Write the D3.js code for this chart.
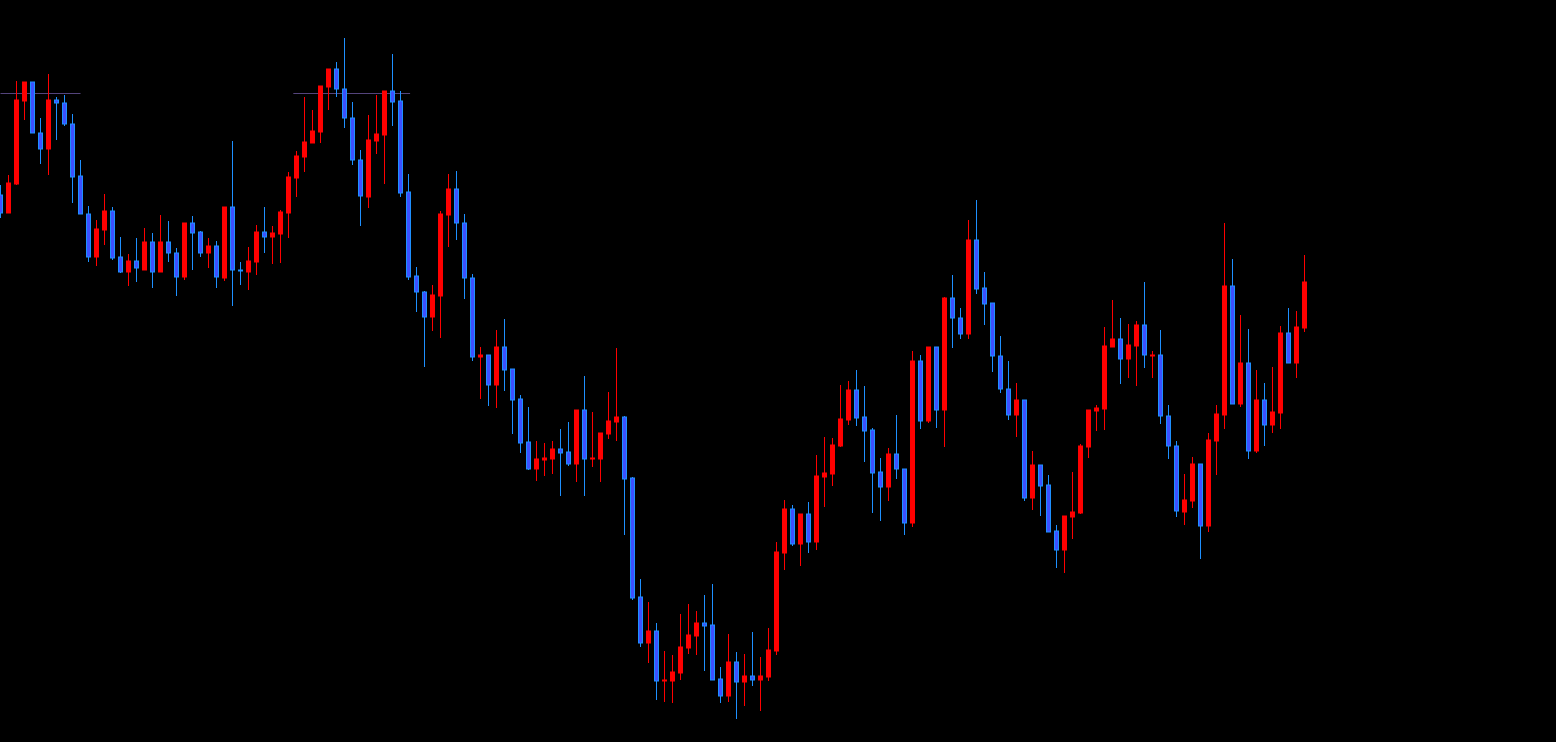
<!DOCTYPE html>
<html>
<head>
<meta charset="utf-8">
<script src="https://cdn.jsdelivr.net/npm/d3@7"></script>
<style>
html,body{margin:0;padding:0;background:#000;overflow:hidden;}
svg{display:block;}
</style>
</head>
<body>
<svg id="chart" width="1556" height="742"></svg>
<script>
// Candle data (index = bar number, prices in chart units)
const opens  = [805,787,816,899,918,867,851,900,897,876,824,786,743,770,789,743,728,739,730,758,728,758,747,723,777,768,747,754,722,793,730,728,738,768,763,766,787,822,843,857,868,913,931,911,882,840,803,859,865,909,899,808,724,708,683,704,785,811,777,722,643,645,615,653,631,601,558,531,540,541,551,548,536,590,541,541,566,578,583,522,403,357,369,319,319,327,352,364,377,375,321,304,338,318,324,320,323,349,447,491,456,486,458,523,526,554,580,610,583,570,528,513,546,531,477,639,579,653,590,702,682,666,760,712,697,644,611,585,600,502,535,515,469,450,483,487,553,589,591,653,661,641,654,675,644,645,584,554,488,499,536,474,559,585,714,596,637,549,600,575,587,667,637,672];
const closes = [787,817,900,918,867,851,900,897,876,823,786,743,771,789,742,728,739,732,758,728,758,747,723,777,767,747,754,723,793,730,729,739,768,763,767,788,823,844,858,869,914,931,911,882,840,804,860,866,909,898,807,723,708,683,705,786,811,777,722,643,645,615,653,630,600,557,531,541,542,551,547,536,590,541,542,567,579,583,521,402,357,369,319,320,328,353,365,377,374,320,304,338,318,324,320,324,350,448,491,456,486,458,524,527,555,581,610,582,569,527,513,546,531,477,639,579,653,590,702,682,666,760,711,696,644,611,585,600,502,535,514,468,450,484,488,554,590,592,654,661,641,655,675,645,645,584,554,489,500,536,474,560,586,714,596,637,549,600,575,588,667,637,673,718];
const highs  = [815,825,919,918,918,882,926,903,905,886,840,794,780,806,793,763,746,762,772,767,785,779,752,777,784,769,762,759,793,859,738,753,775,793,774,790,828,849,903,890,914,931,938,962,898,850,885,905,909,946,909,826,733,709,715,789,826,829,786,726,653,645,670,681,631,605,593,559,557,559,571,578,590,624,588,567,608,652,584,523,421,398,377,349,345,386,396,389,405,416,333,366,348,346,368,343,372,458,500,495,486,498,545,563,562,615,619,630,614,572,542,552,585,531,649,645,653,653,703,725,692,780,800,728,697,664,639,617,600,549,535,525,475,484,528,556,590,595,673,700,682,676,679,718,649,670,595,559,526,543,536,567,595,777,741,685,671,630,617,633,674,692,689,745];
const lows   = [782,787,815,880,867,836,825,860,874,797,786,738,734,755,740,727,714,718,730,712,728,738,704,720,730,743,732,712,719,694,715,710,725,747,736,737,762,803,828,857,857,890,903,872,835,774,792,846,816,874,803,720,688,633,669,662,753,760,701,639,601,594,592,609,566,547,530,519,524,526,504,534,518,504,533,518,561,559,465,400,353,337,300,298,297,320,346,345,329,320,297,298,281,294,314,289,319,345,430,454,434,447,450,493,514,553,575,574,538,487,479,499,521,465,473,571,577,572,553,652,661,661,706,675,628,607,580,563,499,490,484,468,432,427,461,486,542,569,570,653,616,622,614,632,622,576,541,483,475,492,441,468,525,571,596,593,541,547,554,567,571,637,622,668];
// Horizontal level lines: price level and bar-index span
const levelPrices = [907, 907];
const levelStarts = [0, 36.6];
const levelEnds   = [10, 51.2];

const W = 1556, H = 742;
const svg = d3.select('#chart');
svg.append('rect').attr('width', W).attr('height', H).attr('fill', '#000');

const candles = opens.map((o, i) => ({i, o, c: closes[i], h: highs[i], l: lows[i]}));

const x = d3.scaleLinear().domain([0, candles.length - 1]).range([0.5, 0.5 + 8 * (candles.length - 1)]);
const y = d3.scaleLinear().domain([258, 1000]).range([H, 0]);

const UP = '#ff0000', DOWN_FILL = '#3c50ff', DOWN_EDGE = '#1e90ff';
const bodyW = 4;

// level lines
const levels = levelPrices.map((p, i) => ({p, s: levelStarts[i], e: levelEnds[i]}));
svg.append('g').selectAll('line').data(levels).join('line')
  .attr('x1', d => x(d.s)).attr('x2', d => x(d.e))
  .attr('y1', d => Math.round(y(d.p)) + 0.5).attr('y2', d => Math.round(y(d.p)) + 0.5)
  .attr('stroke', '#54447c').attr('stroke-width', 1);

const g = svg.append('g');
// wicks
g.selectAll('line.wick').data(candles).join('line')
  .attr('class', 'wick')
  .attr('x1', d => x(d.i)).attr('x2', d => x(d.i))
  .attr('y1', d => y(d.h)).attr('y2', d => y(d.l))
  .attr('stroke', d => d.c >= d.o ? UP : DOWN_EDGE)
  .attr('stroke-width', 1)
  .attr('shape-rendering', 'crispEdges');
// bodies
g.selectAll('rect.body').data(candles).join('rect')
  .attr('class', 'body')
  .attr('x', d => x(d.i) - bodyW / 2)
  .attr('width', bodyW)
  .attr('y', d => y(Math.max(d.o, d.c)))
  .attr('height', d => Math.max(1, Math.abs(y(d.o) - y(d.c))))
  .attr('fill', d => d.c >= d.o ? UP : DOWN_FILL)
  .attr('stroke', d => d.c >= d.o ? UP : DOWN_EDGE)
  .attr('stroke-width', 1);
</script>
</body>
</html>
